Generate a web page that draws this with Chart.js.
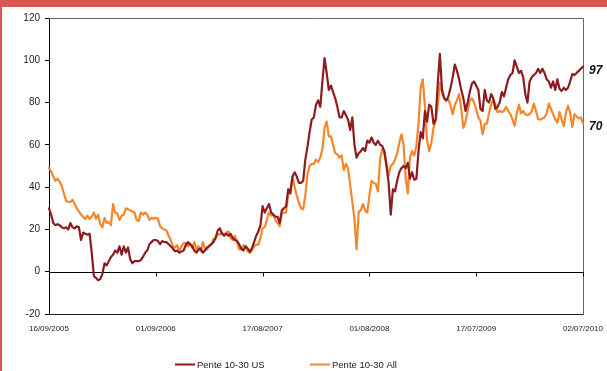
<!DOCTYPE html>
<html>
<head>
<meta charset="utf-8">
<script src="https://cdn.jsdelivr.net/npm/chart.js@4.4.1/dist/chart.umd.min.js"></script>
<style>
  html, body { margin: 0; padding: 0; background: #fff; }
  #wrap { position: relative; width: 607px; height: 371px; overflow: hidden; }
  #chart { position: absolute; left: 0; top: 0; }
  .band-top { position: absolute; left: 0; top: 0; width: 607px; height: 7px; background: #d65850; }
  .band-left { position: absolute; left: 0; top: 0; width: 2px; height: 371px; background: #d65850; }
</style>
</head>
<body>
<div id="wrap">
  <canvas id="chart" width="607" height="371"></canvas>
  <div class="band-top"></div>
  <div class="band-left"></div>
</div>
<script>
// Weekly observations, first week ending 16/09/2005
const startDate = '16/09/2005';
const tickLabels = ['16/09/2005', '01/09/2006', '17/08/2007', '01/08/2008', '17/07/2009', '02/07/2010'];
const seriesNames = ['Pente 10-30 US', 'Pente 10-30 All'];
const seriesColors = ['#8c1c1f', '#f5862a'];
const yMin = -20, yMax = 120, yStep = 20;

// 10-30 year slope, US (bp)
const penteUS = [
  30, 27, 23, 22, 22.5, 22, 21, 20.5, 21, 20,
  23, 21, 20.5, 21.5, 21, 15, 18.5, 18, 17.5, 18,
  9, -2, -3, -4, -3.5, -1, 4, 3, 5, 7,
  8, 10, 9, 12, 8, 12, 9, 11.5, 6, 4,
  5, 5, 5, 5.5, 7, 9, 10, 13, 14, 15,
  15, 14.5, 13, 14.5, 14, 14, 13, 12, 11, 9.7,
  10, 9, 9.5, 10, 12.5, 14, 13, 12, 10, 9,
  10.5, 11, 9, 10, 11.5, 12, 13, 14, 16, 19.5,
  20.5, 18, 17, 18, 17, 18, 16, 15, 14.5, 13,
  11, 10, 12, 11, 9.5, 11, 14, 17, 19, 22,
  31, 28, 30, 32, 28, 27, 26, 26, 23, 29,
  30, 31, 39, 37, 45, 47, 45, 42, 42, 43,
  53, 59, 66, 72, 73, 79, 81, 78, 90, 101,
  94, 86, 88, 85, 82, 78, 73, 73, 76, 74,
  72, 67, 73, 60, 54, 56, 57, 58.5, 57, 62,
  61, 63.5, 61, 60, 62, 60, 59.5, 57, 50, 42,
  27, 39, 38, 43, 47, 49, 50, 49, 51.5, 44,
  47, 43.5, 44, 57, 66, 63, 76, 71, 79, 78,
  70, 72, 89, 103, 86, 82, 81, 83, 87, 92,
  98, 95, 91, 86, 82, 76, 80, 85, 89, 90,
  88, 86, 77, 76, 86, 81, 80, 84, 82, 77,
  78, 80, 85, 83, 87, 91, 93, 94, 100, 97,
  94, 95, 92, 84, 80, 90, 92, 93, 94, 96,
  94, 96, 94, 91, 90, 87, 90, 86, 91, 86.5,
  85.5, 87, 86, 87, 90, 93.5, 93, 94, 95, 96,
  97
];

// 10-30 year slope, aggregate (bp)
const penteAll = [
  49, 47.5, 45, 43, 44, 42.5, 40.5, 37, 33.5, 33,
  33, 34, 32, 30, 28.5, 27, 26, 25, 26.5, 25,
  26, 28, 25, 27, 22.5, 21, 25.5, 23, 23.5, 22,
  32, 28, 27.5, 24.5, 26.5, 27, 30, 29.5, 29, 28.5,
  28, 24.5, 24, 28, 27, 28, 27, 24.5, 25.5, 25,
  25.5, 25, 21.5, 20.5, 20, 19.5, 17, 15, 12, 11.5,
  12.5, 9.7, 12, 13.5, 13.5, 12, 13.5, 11.3, 14, 10.5,
  12, 9.7, 14, 11, 10.5, 12.5, 13, 15.5, 16, 18,
  17.5, 18.5, 17.5, 18.5, 19, 16, 15, 17, 14.5, 10.5,
  10.5, 12.5, 12, 9.7, 8.9, 10, 12, 12.8, 12.8, 16,
  20.7, 21, 24.5, 28, 26.5, 27, 24.5, 23, 21.5, 27.5,
  28, 28, 37, 39, 45, 40, 36, 32.5, 30, 29.5,
  36, 46, 50, 51, 51, 53, 52, 54, 58, 68,
  71, 64, 64, 60, 56, 55.5, 54, 55, 48, 51,
  49, 41, 33, 25, 10.5, 28.5, 29, 32, 29, 28,
  36, 43, 42, 41.5, 38, 53, 58, 56, 51, 45.5,
  50, 51, 53, 56, 61, 65, 60, 44, 37, 54,
  57, 55, 59.5, 70, 87, 91, 78, 62, 57, 61,
  68, 71, 78.5, 89.5, 85, 82, 81, 81.5, 78.5, 74.5,
  79, 81, 84, 77, 68, 71, 76, 81, 82, 80,
  77, 73, 71.4, 65, 70, 70, 75, 79, 81.5, 79,
  75.5, 76, 75.5, 76, 78, 76, 74.5, 72, 69, 75,
  79, 75, 76, 74.5, 74, 74.5, 76, 79.5, 76, 72,
  72, 72.5, 73, 75, 79.5, 77, 74.5, 72, 70.5, 75.5,
  72, 69, 75, 78.5, 75, 68.5, 74.5, 73.5, 72.5, 73,
  70
];

function weekLabels(start, n) {
  const [d, m, y] = start.split('/').map(Number);
  const pad = v => String(v).padStart(2, '0');
  const out = [];
  for (let i = 0; i < n; i++) {
    const dt = new Date(Date.UTC(y, m - 1, d + 7 * i));
    out.push(pad(dt.getUTCDate()) + '/' + pad(dt.getUTCMonth() + 1) + '/' + dt.getUTCFullYear());
  }
  return out;
}
const categories = weekLabels(startDate, penteUS.length);

const FONT = '"Liberation Sans", Arial, sans-serif';

// Plot frame, zero line with its ticks, end-value labels and the legend
const decorations = {
  id: 'decorations',
  beforeDatasetsDraw(chart) {
    const { ctx, chartArea: a, scales: { x, y } } = chart;
    ctx.save();
    ctx.lineWidth = 1;
    ctx.strokeStyle = '#666';
    ctx.beginPath();
    ctx.moveTo(a.left, Math.round(a.top) + 0.5);
    ctx.lineTo(Math.round(a.right) + 0.5, Math.round(a.top) + 0.5);
    ctx.lineTo(Math.round(a.right) + 0.5, Math.round(a.bottom) + 0.5);
    ctx.stroke();
    ctx.strokeStyle = '#222';
    ctx.beginPath();
    ctx.moveTo(a.left, Math.round(a.bottom) + 0.5);
    ctx.lineTo(Math.round(a.right) + 0.5, Math.round(a.bottom) + 0.5);
    ctx.stroke();
    // zero line
    const y0 = Math.round(y.getPixelForValue(0)) + 0.5;
    ctx.strokeStyle = '#000';
    ctx.beginPath();
    ctx.moveTo(a.left, y0);
    ctx.lineTo(a.right, y0);
    categories.forEach((lab, i) => {
      if (tickLabels.includes(lab)) {
        const px = Math.round(x.getPixelForValue(i)) + 0.5;
        ctx.moveTo(px, y0);
        ctx.lineTo(px, y0 + 4);
      }
    });
    ctx.stroke();
    ctx.restore();
  },
  afterDraw(chart) {
    const { ctx, chartArea: a, scales: { y } } = chart;
    ctx.save();
    // last values at the right of the plot
    ctx.font = 'italic bold 12px ' + FONT;
    ctx.fillStyle = '#111';
    ctx.textBaseline = 'middle';
    ctx.textAlign = 'left';
    [penteUS, penteAll].forEach((s, k) => {
      const v = s[s.length - 1];
      ctx.fillText(String(v), a.right + 6, y.getPixelForValue(v) + (k === 0 ? 4 : 3));
    });
    // legend
    const legendX = [175, 310];
    const legendY = 364;
    ctx.font = '9.5px ' + FONT;
    ctx.fillStyle = '#222';
    chart.data.datasets.forEach((ds, k) => {
      const lx = legendX[k];
      ctx.strokeStyle = ds.borderColor;
      ctx.lineWidth = 2;
      ctx.beginPath();
      ctx.moveTo(lx, legendY + 0.5);
      ctx.lineTo(lx + 20, legendY + 0.5);
      ctx.stroke();
      ctx.fillText(ds.label, lx + 22, legendY + 1);
    });
    ctx.restore();
  }
};

new Chart(document.getElementById('chart'), {
  type: 'line',
  data: {
    labels: categories,
    datasets: [
      { label: seriesNames[0], data: penteUS, borderColor: seriesColors[0], backgroundColor: seriesColors[0] },
      { label: seriesNames[1], data: penteAll, borderColor: seriesColors[1], backgroundColor: seriesColors[1] }
    ]
  },
  options: {
    responsive: false,
    devicePixelRatio: 1,
    animation: false,
    layout: { padding: { left: 0, top: 18, right: 24, bottom: 0 } },
    elements: {
      line: { borderWidth: 2.2, tension: 0, borderJoinStyle: 'round', borderCapStyle: 'round' },
      point: { radius: 0, hoverRadius: 0 }
    },
    plugins: {
      legend: { display: false },
      tooltip: { enabled: false }
    },
    scales: {
      x: {
        type: 'category',
        offset: false,
        grid: { display: false },
        border: { display: false },
        afterFit(s) { s.height = 57; },
        ticks: {
          autoSkip: false,
          maxRotation: 0,
          minRotation: 0,
          padding: 2,
          color: '#222',
          font: { family: FONT, size: 8 },
          callback(v) {
            const lab = this.getLabelForValue(v);
            return tickLabels.includes(lab) ? lab : null;
          }
        }
      },
      y: {
        min: yMin,
        max: yMax,
        afterFit(s) { s.width = 49; },
        grid: { drawOnChartArea: false, tickLength: 4, color: '#000' },
        border: { color: '#000', width: 1 },
        ticks: {
          stepSize: yStep,
          padding: 5,
          color: '#222',
          font: { family: FONT, size: 10 }
        }
      }
    }
  },
  plugins: [decorations]
});
</script>
</body>
</html>
